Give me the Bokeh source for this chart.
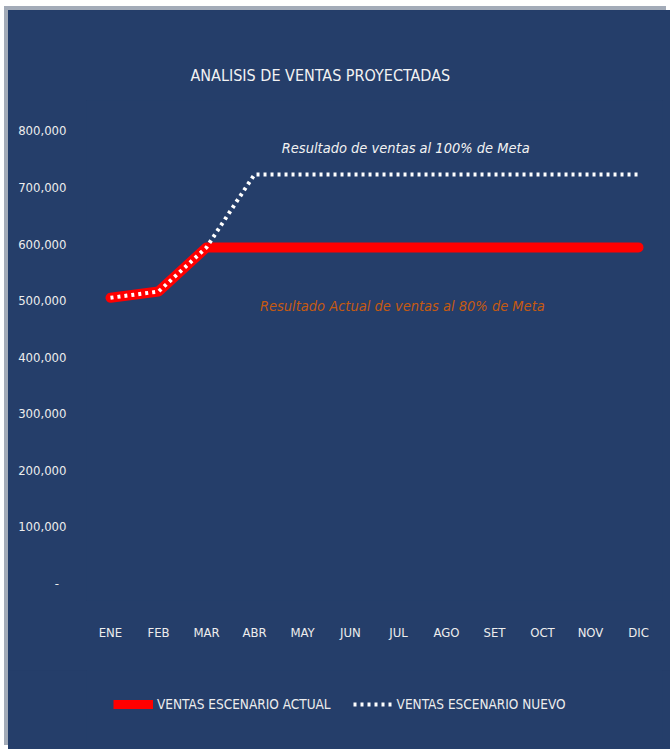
from bokeh.plotting import figure
from bokeh.layouts import column
from bokeh.models import FactorRange, Range1d, Label, Legend, LegendItem, NumeralTickFormatter, FixedTicker
from bokeh.embed import file_html
from bokeh.resources import INLINE

months = ["ENE", "FEB", "MAR", "ABR", "MAY", "JUN", "JUL", "AGO", "SET", "OCT", "NOV", "DIC"]
ventas_actual = [505000, 516000, 594000, 594000, 594000, 594000, 594000, 594000, 594000, 594000, 594000, 594000]
ventas_nuevo = [505000, 516000, 594000, 723000, 723000, 723000, 723000, 723000, 723000, 723000, 723000, 723000]
y_ticks = [0, 100000, 200000, 300000, 400000, 500000, 600000, 700000, 800000]

title_text = "ANALISIS DE VENTAS PROYECTADAS"
note_100 = "Resultado de ventas al 100% de Meta"
note_80 = "Resultado Actual de ventas al 80% de Meta"
label_actual = "VENTAS ESCENARIO ACTUAL"
label_nuevo = "VENTAS ESCENARIO NUEVO"

FONT = "'Liberation Sans Narrow', 'DejaVu Sans Condensed', 'Roboto Condensed', 'Liberation Sans', sans-serif"
BG = "#253E6A"
RED = "#FF0000"
WHITE = "#FFFFFF"


def style_fig(f):
    f.background_fill_color = BG
    f.border_fill_color = BG
    f.outline_line_color = None
    f.grid.visible = False


p = figure(width=662, height=660, x_range=FactorRange(*months), y_range=Range1d(-30000, 853600),
           output_backend="svg", toolbar_location=None,
           min_border_left=78, min_border_right=8, min_border_top=90, min_border_bottom=70)
style_fig(p)

p.title.text = title_text
p.title.text_font = FONT
p.title.text_font_size = "16px"
p.title.text_font_style = "normal"
p.title.text_color = "#F2F2F2"
p.title.align = "left"
p.title.offset = 104
p.title.standoff = 32

p.xaxis.axis_line_color = None
p.xaxis.major_tick_line_color = None
p.xaxis.minor_tick_line_color = None
p.xaxis.major_label_text_font = FONT
p.xaxis.major_label_text_font_size = "13px"
p.xaxis.major_label_text_color = "#EDEDED"
p.xaxis.major_label_standoff = 18

p.yaxis.axis_line_color = None
p.yaxis.major_tick_line_color = None
p.yaxis.minor_tick_line_color = None
p.yaxis.ticker = FixedTicker(ticks=y_ticks)
p.yaxis.formatter = NumeralTickFormatter(format="0,0")
p.yaxis.major_label_overrides = {0: "-  "}
p.yaxis.major_label_text_font = FONT
p.yaxis.major_label_text_font_size = "13px"
p.yaxis.major_label_text_color = "#EDEDED"
p.yaxis.major_label_standoff = 14

p.line(months, ventas_actual, line_color=RED, line_width=10, line_cap="round", line_join="round")
p.line(months, ventas_nuevo, line_color=WHITE, line_width=4, line_dash="3 4")

p.add_layout(Label(x=6.65, y=770000, text=note_100, text_align="center", text_baseline="middle",
                   text_font=FONT, text_font_size="14.5px", text_font_style="italic", text_color="#F2F2F2"))
p.add_layout(Label(x=6.58, y=491000, text=note_80, text_align="center", text_baseline="middle",
                   text_font=FONT, text_font_size="14.5px", text_font_style="italic", text_color="#C55A11"))

# legend strip (same series, drawn outside its visible range so only the legend shows)
lg = figure(width=662, height=79, x_range=FactorRange(*months), y_range=Range1d(0, 1),
            output_backend="svg", toolbar_location=None, min_border=0)
style_fig(lg)
lg.axis.visible = False
r_act = lg.line(months, ventas_actual, line_color=RED, line_width=9)
r_new = lg.line(months, ventas_nuevo, line_color=WHITE, line_width=4, line_dash="3 4")

legend = Legend(items=[LegendItem(label=label_actual, renderers=[r_act]),
                       LegendItem(label=label_nuevo, renderers=[r_new])],
                location=(27, 35), orientation="horizontal")
legend.background_fill_alpha = 0
legend.border_line_color = None
legend.padding = 0
legend.margin = 0
legend.spacing = 22
legend.glyph_width = 40
legend.glyph_height = 20
legend.label_standoff = 4
legend.label_text_font = FONT
legend.label_text_font_size = "13.5px"
legend.label_text_color = "#EDEDED"
lg.add_layout(legend, "center")

layout = column(p, lg, spacing=0)
layout.margin = (10, 0, 0, 8)
layout.styles = {"box-shadow": "-4px -4px 0 #A3ABB8", "background-color": BG}

open("out.html", "w").write(file_html(layout, INLINE))
